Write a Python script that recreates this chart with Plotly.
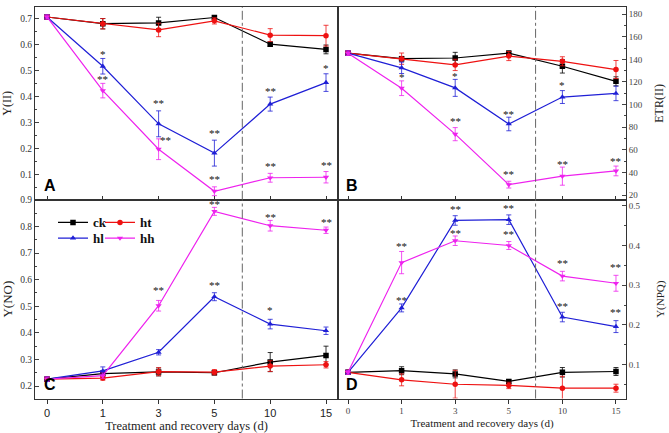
import plotly.graph_objects as go

days = ["0", "1", "3", "5", "10", "15"]
series = ["ck", "ht", "hl", "hh"]

# Panel A: Y(II)
yII = {
    "ck": [0.707, 0.681, 0.684, 0.705, 0.602, 0.582],
    "ht": [0.707, 0.681, 0.657, 0.692, 0.637, 0.635],
    "hl": [0.707, 0.517, 0.295, 0.182, 0.371, 0.454],
    "hh": [0.707, 0.423, 0.197, 0.035, 0.087, 0.089],
}
yII_err = {
    "ck": [0.008, 0.02, 0.022, 0.006, 0.008, 0.017],
    "ht": [0.008, 0.02, 0.026, 0.012, 0.025, 0.04],
    "hl": [0.008, 0.03, 0.05, 0.05, 0.027, 0.034],
    "hh": [0.008, 0.028, 0.04, 0.017, 0.017, 0.022],
}
# Panel B: ETR(II)
etr = {
    "ck": [145.5, 140.6, 141.2, 145.5, 133.9, 120.6],
    "ht": [145.5, 140.6, 135.1, 142.9, 138.3, 131.0],
    "hl": [145.5, 132.5, 114.8, 82.9, 106.7, 109.9],
    "hh": [145.5, 114.5, 73.9, 29.3, 36.8, 41.4],
}
etr_err = {
    "ck": [2, 2, 5, 2, 6, 4],
    "ht": [2, 5, 5, 4, 4, 8],
    "hl": [2, 5, 7.5, 6, 5.7, 6.4],
    "hh": [2, 6.5, 5.8, 3, 8, 4.3],
}
# Panel C: Y(NO)
yNO = {
    "ck": [0.226, 0.247, 0.253, 0.250, 0.290, 0.315],
    "ht": [0.226, 0.230, 0.254, 0.252, 0.275, 0.280],
    "hl": [0.226, 0.257, 0.327, 0.536, 0.433, 0.408],
    "hh": [0.226, 0.239, 0.502, 0.857, 0.803, 0.786],
}
yNO_err = {
    "ck": [0.008, 0.01, 0.015, 0.008, 0.036, 0.035],
    "ht": [0.008, 0.008, 0.015, 0.01, 0.02, 0.012],
    "hl": [0.008, 0.015, 0.01, 0.015, 0.018, 0.014],
    "hh": [0.008, 0.01, 0.02, 0.015, 0.02, 0.012],
}
# Panel D: Y(NPQ)
yNPQ = {
    "ck": [0.081, 0.085, 0.077, 0.058, 0.081, 0.083],
    "ht": [0.081, 0.062, 0.051, 0.048, 0.041, 0.041],
    "hl": [0.081, 0.243, 0.463, 0.465, 0.220, 0.196],
    "hh": [0.081, 0.357, 0.412, 0.400, 0.323, 0.305],
}
yNPQ_err = {
    "ck": [0.005, 0.01, 0.01, 0.005, 0.012, 0.01],
    "ht": [0.005, 0.015, 0.035, 0.008, 0.03, 0.01],
    "hl": [0.005, 0.01, 0.012, 0.012, 0.012, 0.015],
    "hh": [0.005, 0.028, 0.012, 0.01, 0.012, 0.02],
}

# significance marks: (day index, value, text)
stars_A = [(1, 0.563, "*"), (1, 0.467, "**"), (2, 0.376, "**"), (2.12, 0.233, "**"),
           (3, 0.258, "**"), (3, 0.081, "**"), (4, 0.421, "**"), (4, 0.131, "**"),
           (5, 0.510, "*"), (5, 0.138, "**")]
stars_B = [(1, 124.3, "*"), (2, 124.9, "*"), (2, 85.2, "**"), (3, 91.6, "**"),
           (3, 38.3, "**"), (4, 117.7, "*"), (4, 47.5, "**"), (5, 49.9, "**")]
stars_C = [(2, 0.562, "**"), (3, 0.886, "**"), (3, 0.581, "**"), (4, 0.837, "**"),
           (4, 0.486, "*"), (5, 0.816, "**")]
stars_D = [(1, 0.400, "**"), (1, 0.2625, "**"), (2, 0.492, "**"), (2, 0.432, "**"),
           (3, 0.495, "**"), (3, 0.430, "**"), (4, 0.357, "**"), (4, 0.249, "**"),
           (5, 0.345, "**"), (5, 0.232, "**")]

colors = {"ck": "#000000", "ht": "#ee1111", "hl": "#1f1fd6", "hh": "#ee22ee"}
symbols = {"ck": "square", "ht": "circle", "hl": "triangle-up", "hh": "triangle-down"}
legend_of = {"ck": "legend", "ht": "legend2", "hl": "legend3", "hh": "legend4"}

W, H = 669, 433
xidx = list(range(len(days)))

panels = [
    ("", yII, yII_err, stars_A, "A"),
    ("2", etr, etr_err, stars_B, "B"),
    ("3", yNO, yNO_err, stars_C, "C"),
    ("4", yNPQ, yNPQ_err, stars_D, "D"),
]

fig = go.Figure()
annotations = []
shapes = []
for suf, data, err, stars, label in panels:
    for s in series:
        show = suf == "3"
        fig.add_trace(go.Scatter(
            x=xidx, y=data[s], name=s, mode="lines+markers",
            xaxis="x" + suf, yaxis="y" + suf,
            line=dict(color=colors[s], width=1.2),
            marker=dict(symbol=symbols[s], color=colors[s], size=5.5),
            error_y=dict(type="data", array=err[s], color=colors[s], thickness=0.8, width=2.5),
            showlegend=show,
            legend=legend_of[s],
        ))
    for (xi, yv, t) in stars:
        annotations.append(dict(x=xi, y=yv, text=t, xref="x" + suf, yref="y" + suf,
                                showarrow=False, font=dict(family="Liberation Serif", size=11, color="#111")))
    annotations.append(dict(x=0.022, y=0.02, xref="x" + suf + " domain", yref="y" + suf + " domain",
                            text="<b>" + label + "</b>", showarrow=False, xanchor="left", yanchor="bottom",
                            font=dict(family="Liberation Sans", size=16, color="black")))
    shapes.append(dict(type="line", x0=3.5, x1=3.5, y0=0, y1=1, xref="x" + suf, yref="y" + suf + " domain",
                       line=dict(color="#666", width=1, dash="dashdot")))

def px_x(a, b):
    return [a / W, b / W]

def px_y(top, bot):
    return [1 - bot / H, 1 - top / H]

serif = "Liberation Serif"
axcommon = dict(showline=True, linecolor="#333", linewidth=1, mirror=True, zeroline=False, showgrid=False)

xcommon = dict(axcommon, tickmode="array", tickvals=xidx, ticktext=days, ticklen=4, tickcolor="#333")

legfont = dict(family=serif, size=13, weight="bold", color="#111")

def leg(xpx, ypx):
    return dict(orientation="h", x=xpx / W, y=1 - ypx / H, xanchor="left", yanchor="middle",
                bgcolor="rgba(0,0,0,0)", font=legfont, itemwidth=30)

fig.update_layout(
    width=W, height=H, margin=dict(l=0, r=0, t=0, b=0),
    plot_bgcolor="white", paper_bgcolor="white",
    annotations=annotations, shapes=shapes,
    xaxis=dict(xcommon, domain=px_x(35, 338), range=[-0.215, 5.215], anchor="y",
               ticks="inside", showticklabels=False),
    xaxis2=dict(xcommon, domain=px_x(338, 626), range=[-0.187, 5.187], anchor="y2",
                ticks="inside", showticklabels=False),
    xaxis3=dict(xcommon, domain=px_x(35, 338), range=[-0.215, 5.215], anchor="y3",
                ticks="outside", tickfont=dict(family="Liberation Sans", size=11, color="#222"),
                title=dict(text="Treatment and recovery days (d)", standoff=6,
                           font=dict(family=serif, size=12.5, color="#222"))),
    xaxis4=dict(xcommon, domain=px_x(338, 626), range=[-0.187, 5.187], anchor="y4",
                ticks="outside", tickfont=dict(family=serif, size=9, color="#444"),
                title=dict(text="Treatment and recovery days (d)", standoff=3,
                           font=dict(family=serif, size=11, color="#222"))),
    yaxis=dict(axcommon, domain=px_y(2, 198), range=[0.002, 0.7456], dtick=0.1, tick0=0,
               tickformat=".1f", ticks="inside", ticklen=4, anchor="x",
               minor=dict(dtick=0.05, ticks="inside", ticklen=2),
               tickfont=dict(family=serif, size=9.5, color="#333"),
               title=dict(text="Y(II)", standoff=6, font=dict(family=serif, size=12, color="#222"))),
    yaxis2=dict(axcommon, domain=px_y(2, 198), range=[15.9, 186.3], dtick=20, tick0=0,
                ticks="inside", ticklen=4, side="right", anchor="x2",
                minor=dict(dtick=10, ticks="inside", ticklen=2),
                tickfont=dict(family=serif, size=9, color="#444"),
                title=dict(text="ETR(II)", standoff=12, font=dict(family=serif, size=12, color="#222"))),
    yaxis3=dict(axcommon, domain=px_y(198, 400), range=[0.153, 0.9005], dtick=0.1, tick0=0,
                tickformat=".1f", ticks="inside", ticklen=4, anchor="x3",
                minor=dict(dtick=0.05, ticks="inside", ticklen=2),
                tickfont=dict(family=serif, size=9.5, color="#333"),
                title=dict(text="Y(NO)", standoff=6, font=dict(family=serif, size=13, color="#222"))),
    yaxis4=dict(axcommon, domain=px_y(198, 400), range=[0.015, 0.515], dtick=0.1, tick0=0,
                tickformat=".1f", ticks="inside", ticklen=4, side="right", anchor="x4",
                minor=dict(dtick=0.05, ticks="inside", ticklen=2),
                tickfont=dict(family=serif, size=9, color="#444"),
                title=dict(text="Y(NPQ)", standoff=16, font=dict(family=serif, size=11, color="#222"))),
    legend=leg(53, 221),
    legend2=leg(100, 221),
    legend3=leg(53, 237),
    legend4=leg(100, 237),
)

fig.write_html("out.html", config={"displayModeBar": False},
               post_script="document.body.style.margin='0';document.body.style.overflow='hidden';")
